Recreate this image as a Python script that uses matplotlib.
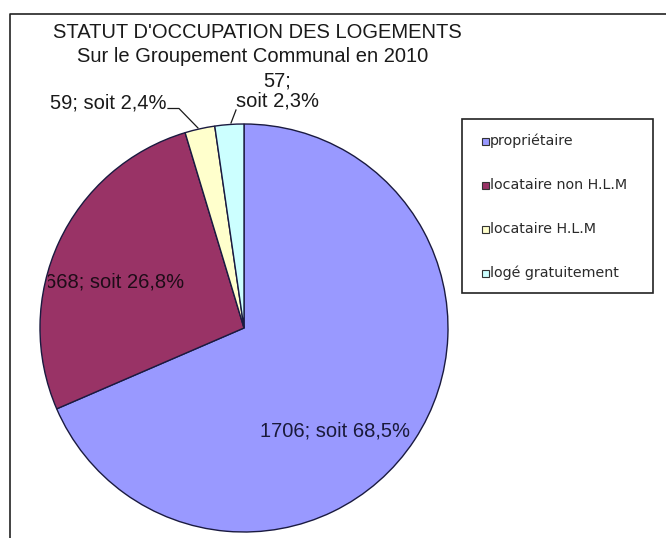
import matplotlib
matplotlib.use("Agg")
import matplotlib.pyplot as plt
from matplotlib.patches import Rectangle
from matplotlib.lines import Line2D

# data
categories = ["propriétaire", "locataire non H.L.M", "locataire H.L.M", "logé gratuitement"]
counts = [1706, 668, 59, 57]
pct_labels = ["68,5%", "26,8%", "2,4%", "2,3%"]
colors = ["#9999FF", "#993366", "#FFFFCC", "#CCFFFF"]

W, H = 666, 538
fig = plt.figure(figsize=(W / 100, H / 100), dpi=100)
plt.rcParams["font.family"] = ["Liberation Sans", "DejaVu Sans"]


def fx(px):
    return px / W


def fy(py):
    return 1 - py / H


# outer frame (only top and left edges are inside the picture)
fig.add_artist(Line2D([fx(9.5), fx(9.5), 1.0], [0.0, fy(13.5), fy(13.5)],
                      transform=fig.transFigure, color="#222222", lw=1.2))

# pie: centre (244, 328) px, radius 204 px
cx, cy, r = 244, 328, 204
ax = fig.add_axes([fx(cx - r), fy(cy + r), 2 * r / W, 2 * r / H])
ax.pie(counts, colors=colors, startangle=90, counterclock=False, radius=1,
       wedgeprops=dict(edgecolor="#1a1a40", linewidth=1.0))
ax.set_xlim(-1, 1)
ax.set_ylim(-1, 1)
ax.axis("off")


def dx(px):
    return (px - cx) / r


def dy(py):
    return (cy - py) / r


fs = 14.5
ax.text(dx(335), dy(431), f"{counts[0]}; soit {pct_labels[0]}", ha="center", va="center",
        fontsize=fs, color="#1a1a3a")
t668 = ax.text(dx(45), dy(282), f"{counts[1]}; soit {pct_labels[1]}", ha="left", va="center",
               fontsize=fs, color="#1e0c18")
clip = Rectangle((48, 0), 600, H, transform=None)
t668.set_clip_path(clip)
t668.set_clip_on(True)

ax.text(dx(166), dy(103), f"{counts[2]}; soit {pct_labels[2]}", ha="right", va="center",
        fontsize=fs, color="#1a1a1a", clip_on=False)
ax.plot([dx(168), dx(179), dx(198)], [dy(108.5), dy(108.5), dy(128)],
        color="#1a1a1a", lw=0.9, clip_on=False)
ax.text(dx(277), dy(91), f"{counts[3]};\nsoit {pct_labels[3]}", ha="center", va="center",
        fontsize=fs, color="#1a1a1a", linespacing=1.1, clip_on=False)
ax.plot([dx(236), dx(231)], [dy(110), dy(123)], color="#1a1a1a", lw=0.9, clip_on=False)

# titles
fig.text(fx(257), fy(33), "STATUT D'OCCUPATION DES LOGEMENTS", ha="center", va="center",
         fontsize=fs, color="#1a1a1a")
fig.text(fx(253), fy(56), "Sur le Groupement Communal en 2010", ha="center", va="center",
         fontsize=fs, color="#1a1a1a")

# legend box
fig.add_artist(Rectangle((fx(462), fy(293)), (653 - 462) / W, (293 - 119) / H,
                         transform=fig.transFigure, facecolor="white",
                         edgecolor="#222222", lw=1.2))
entry_y = [141, 185, 229, 273]
for cat, col, ey in zip(categories, colors, entry_y):
    fig.add_artist(Rectangle((fx(482), fy(ey + 3.5)), 7 / W, 7 / H,
                             transform=fig.transFigure, facecolor=col,
                             edgecolor="#333333", lw=0.8))
    fig.text(fx(490), fy(ey), cat, ha="left", va="center", fontsize=10.3,
             family=["DejaVu Sans"], color="#2a2a2a")

fig.savefig("out.png", dpi=100)
